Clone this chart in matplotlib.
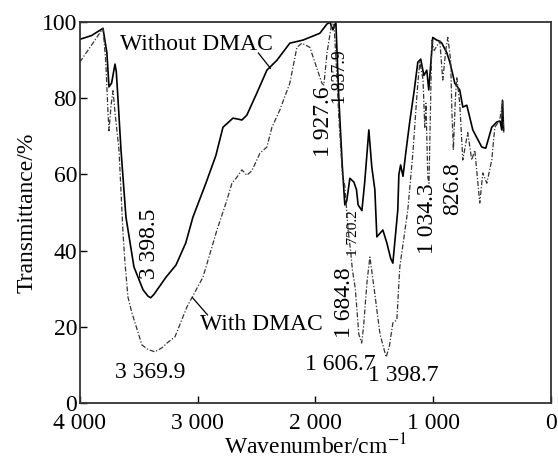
import matplotlib
matplotlib.use("Agg")
import matplotlib.pyplot as plt
import numpy as np

plt.rcParams['font.family'] = ['Liberation Serif', 'DejaVu Serif']
plt.rcParams['mathtext.fontset'] = 'stix'

# Without DMAC (solid)
wn_without = [4000, 3900, 3803, 3770, 3752, 3730, 3701, 3690, 3676, 3650, 3608, 3540, 3463, 3420,
              3398, 3370, 3268, 3183, 3100, 3039, 2929, 2844, 2784, 2699, 2650, 2623, 2581, 2496,
              2411, 2326, 2216, 2105, 1961, 1902, 1876, 1850, 1825, 1800, 1770, 1749, 1733, 1706,
              1672, 1650, 1636, 1604, 1580, 1545, 1520, 1494, 1477, 1426, 1392, 1360, 1341, 1299,
              1290, 1275, 1255, 1230, 1197, 1160, 1129, 1104, 1078, 1053, 1036, 1002, 968, 942,
              925, 883, 857, 815, 773, 747, 713, 662, 586, 552, 501, 458, 430, 416, 410, 400]
t_without = [95.5, 96.5, 98.4, 92, 83, 84, 89, 87, 80, 66.4, 48.8, 35.7, 29.7, 28,
             27.6, 28.5, 33, 36.2, 42, 48.8, 57.7, 65, 72.4, 74.8, 74.5, 74.3, 75.6, 81.4,
             87.4, 90, 94.5, 95.3, 97.1, 99.5, 100, 98, 100, 80, 62, 52, 53, 59,
             58, 56, 52, 50.5, 58, 71.7, 62, 56, 43.6, 45.4, 42, 38, 36.7, 50.7,
             60, 62.5, 59.5, 66, 74, 82, 89.5, 90.3, 86, 87.4, 82.2, 96, 95.3, 95,
             94.5, 92, 89.5, 84, 82.2, 77.7, 78.2, 71.7, 67.2, 66.9, 72.4, 73.8, 74, 71.7, 79.5, 71.5]

# With DMAC (dash-dot)
wn_with = [4000, 3900, 3803, 3780, 3760, 3752, 3735, 3718, 3700, 3667, 3633, 3616, 3591, 3557,
           3472, 3420, 3362, 3300, 3260, 3192, 3090, 2954, 2835, 2750, 2708, 2665, 2623, 2581,
           2538, 2470, 2411, 2368, 2300, 2216, 2156, 2114, 2046, 1944, 1927, 1900, 1859, 1840,
           1820, 1800, 1770, 1749, 1720, 1700, 1685, 1660, 1630, 1606, 1590, 1560, 1536, 1500,
           1450, 1398, 1370, 1341, 1307, 1282, 1214, 1171, 1138, 1125, 1112, 1085, 1070, 1060,
           1044, 1034, 1010, 990, 942, 917, 890, 874, 850, 840, 827, 810, 798, 773, 747, 705,
           671, 645, 603, 577, 543, 501, 475, 433, 408, 400]
t_with = [89.5, 94, 98.4, 90, 76, 71.5, 78, 82, 76, 66.4, 44.6, 36.7, 27.8, 23.6,
          15.2, 14, 13.4, 14.5, 15.7, 17.3, 25.2, 33, 45.4, 53.3, 57.7, 59.3, 61.2, 59.8,
          61, 65.6, 67.2, 72.4, 77, 84, 93.4, 94.5, 93.4, 84, 83.5, 92, 100, 99,
          88, 75, 60, 57, 45, 40, 35, 30, 18, 15.7, 20, 32, 38.3, 30,
          18, 12, 15, 21, 21.8, 35.7, 50.7, 65.6, 80.3, 85.3, 89.5, 85, 72.4, 78.7,
          59.3, 57.7, 95.3, 92.6, 95, 84.8, 93, 96, 90, 77, 66.4, 80, 85.6, 78.7, 63.8, 71,
          63.8, 66.4, 52.5, 60.4, 57.7, 63.8, 72.4, 74.3, 79.5, 71]

xticks = [4000, 3000, 2000, 1000, 0]
xtick_labels = ["4 000", "3 000", "2 000", "1 000", "0"]
yticks = [0, 20, 40, 60, 80, 100]

fig = plt.figure(figsize=(5.58, 4.63), dpi=100)
ax = fig.add_axes([0.143, 0.130, 0.844, 0.822])

ax.plot(wn_without, t_without, color='black', lw=1.2, linestyle='-')
ax.plot(wn_with, t_with, color='#333333', lw=0.9, linestyle=(0, (4, 1.5, 1, 1.5)))

ax.set_xlim(4000, 0)
ax.set_ylim(0, 100)
ax.set_xticks(xticks)
ax.set_xticklabels(xtick_labels)
ax.set_yticks(yticks)
ax.tick_params(direction='in', length=5, width=1, labelsize=17, top=False, right=False, pad=2)
ax.tick_params(axis='x', pad=7)
for s in ax.spines.values():
    s.set_linewidth(1.3)
    s.set_color('#333333')

ax.set_xlabel("Wavenumber/cm$^{-1}$", fontsize=17, labelpad=0)
ax.set_ylabel("Transmittance/%", fontsize=17, labelpad=3)

fs = 17
ax.text(3659, 94.2, "Without DMAC", fontsize=fs, ha='left', va='center')
ax.plot([2483, 2381], [91.9, 87.9], color='black', lw=0.9)
ax.text(2983, 20.5, "With DMAC", fontsize=fs, ha='left', va='center')
ax.plot([3042, 2915], [27.6, 23.1], color='black', lw=0.9)

ax.text(3400, 7.9, "3 369.9", fontsize=fs, ha='center', va='center')
ax.text(3407, 41.7, "3 398.5", fontsize=fs, ha='center', va='center', rotation=90)
ax.text(1932, 73.8, "1 927.6", fontsize=fs, ha='center', va='center', rotation=90)
ax.text(1785, 85.6, "1 837.9", fontsize=13, ha='center', va='center', rotation=90)
ax.text(1672, 44.5, "1 720.2", fontsize=11, ha='center', va='center', rotation=90)
ax.text(1754, 26.2, "1 684.8", fontsize=fs, ha='center', va='center', rotation=90)
ax.text(1788, 10.0, "1 606.7", fontsize=fs, ha='center', va='center')
ax.text(1254, 7.3, "1 398.7", fontsize=fs, ha='center', va='center')
ax.text(1051, 48.3, "1 034.3", fontsize=fs, ha='center', va='center', rotation=90)
ax.text(831, 56.4, "826.8", fontsize=fs, ha='center', va='center', rotation=90)

fig.savefig("out.png", dpi=100)
